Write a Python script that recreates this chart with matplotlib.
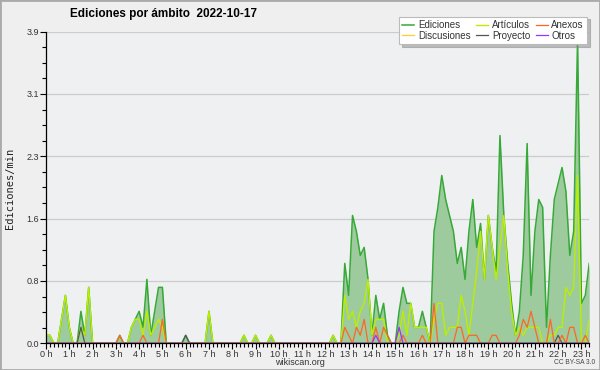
import numpy as np
import matplotlib
matplotlib.use('Agg')
import matplotlib.pyplot as plt
from matplotlib.patches import Rectangle
from matplotlib.ticker import MultipleLocator, FixedLocator

# 10-minute samples, 00:00 -> 23:20 (edits per minute)
minutes = np.arange(0, 1410, 10)

ediciones = [
    0.1, 0.1, 0, 0, 0.3, 0.6, 0.2, 0, 0, 0.4, 0.1, 0.7,
    0, 0, 0, 0, 0, 0, 0, 0.1, 0, 0, 0.2, 0.3,
    0.4, 0.2, 0.8, 0.1, 0.4, 0.7, 0.7, 0, 0, 0, 0, 0,
    0.1, 0, 0, 0, 0, 0, 0.4, 0, 0, 0, 0, 0,
    0, 0, 0, 0.1, 0, 0, 0.1, 0, 0, 0, 0.1, 0,
    0, 0, 0, 0, 0, 0, 0, 0, 0, 0, 0, 0,
    0, 0, 0.1, 0, 0, 1.0, 0.6, 1.6, 1.4, 1.1, 1.2, 0.8,
    0.1, 0.6, 0.3, 0.5, 0.1, 0, 0, 0.4, 0.7, 0.5, 0.5, 0.2,
    0.2, 0.4, 0.2, 0, 1.4, 1.7, 2.1, 1.8, 1.6, 1.4, 1.0, 1.2,
    0.8, 1.4, 1.8, 1.2, 1.5, 0.8, 1.6, 1.2, 0.9, 2.6, 1.6, 1.0,
    0.5, 0.1, 0.4, 1.1, 2.5, 0.6, 1.4, 1.8, 1.7, 0.2, 1.1, 1.8,
    2.0, 2.2, 1.9, 1.1, 1.4, 3.8, 0.5, 0.6, 1.0,
]

articulos = [
    0.1, 0.1, 0, 0, 0.3, 0.6, 0.2, 0, 0, 0.2, 0.1, 0.7,
    0, 0, 0, 0, 0, 0, 0, 0, 0, 0, 0.2, 0.3,
    0.3, 0.1, 0.4, 0.1, 0.2, 0.3, 0.2, 0, 0, 0, 0, 0,
    0, 0, 0, 0, 0, 0, 0.4, 0, 0, 0, 0, 0,
    0, 0, 0, 0.1, 0, 0, 0.1, 0, 0, 0, 0.1, 0,
    0, 0, 0, 0, 0, 0, 0, 0, 0, 0, 0, 0,
    0, 0, 0.1, 0, 0, 0.6, 0.3, 0.4, 0.2, 0.4, 0.5, 0.8,
    0.1, 0.3, 0.3, 0.3, 0, 0, 0, 0.1, 0.4, 0.1, 0.5, 0.2,
    0.2, 0.2, 0.2, 0, 0.3, 0.5, 0.5, 0.1, 0.2, 0.2, 0.2, 0.6,
    0.4, 0.1, 0.5, 0.9, 1.4, 0.8, 1.6, 1.2, 0.8, 1.2, 1.6, 0.9,
    0.4, 0.1, 0.2, 0.1, 0.2, 0.2, 0.2, 0.2, 0, 0, 0.1, 0.1,
    0.2, 0.2, 0.7, 0.6, 0.7, 2.1, 0, 0, 0.3,
]

anexos = [
    0, 0, 0, 0, 0, 0, 0, 0, 0, 0, 0, 0,
    0, 0, 0, 0, 0, 0, 0, 0.1, 0, 0, 0, 0,
    0, 0.1, 0, 0, 0, 0, 0.3, 0, 0, 0, 0, 0,
    0, 0, 0, 0, 0, 0, 0, 0, 0, 0, 0, 0,
    0, 0, 0, 0, 0, 0, 0, 0, 0, 0, 0, 0,
    0, 0, 0, 0, 0, 0, 0, 0, 0, 0, 0, 0,
    0, 0, 0, 0, 0, 0.2, 0.1, 0, 0.2, 0.1, 0.3, 0,
    0, 0.2, 0, 0.2, 0.1, 0, 0, 0, 0.1, 0, 0, 0,
    0, 0.1, 0, 0, 0.5, 0, 0, 0, 0, 0, 0.2, 0.2,
    0, 0.1, 0.1, 0.1, 0, 0, 0, 0.1, 0.1, 0, 0, 0,
    0, 0, 0.1, 0.3, 0.2, 0.4, 0.2, 0, 0, 0, 0.3, 0,
    0, 0.1, 0, 0.2, 0.2, 0, 0, 0.1, 0,
]

discusiones = [
    0, 0, 0, 0, 0, 0, 0, 0, 0, 0, 0, 0,
    0, 0, 0, 0, 0, 0, 0, 0, 0, 0, 0, 0,
    0, 0, 0, 0, 0, 0, 0, 0, 0, 0, 0, 0,
    0, 0, 0, 0, 0, 0, 0, 0, 0, 0, 0, 0,
    0, 0, 0, 0, 0, 0, 0, 0, 0, 0, 0, 0,
    0, 0, 0, 0, 0, 0, 0, 0, 0, 0, 0, 0,
    0, 0, 0, 0, 0, 0, 0, 0, 0, 0, 0, 0,
    0, 0, 0, 0, 0, 0, 0, 0, 0, 0, 0, 0,
    0, 0, 0, 0, 0, 0, 0, 0, 0, 0, 0, 0,
    0, 0, 0, 0, 0, 0, 0, 0, 0, 0, 0, 0,
    0, 0, 0, 0, 0, 0, 0, 0, 0, 0, 0, 0,
    0, 0, 0, 0, 0, 0, 0, 0, 0,
]

proyecto = [
    0, 0, 0, 0, 0, 0, 0, 0, 0, 0.2, 0, 0,
    0, 0, 0, 0, 0, 0, 0, 0, 0, 0, 0, 0,
    0, 0, 0, 0, 0, 0, 0, 0, 0, 0, 0, 0,
    0.1, 0, 0, 0, 0, 0, 0, 0, 0, 0, 0, 0,
    0, 0, 0, 0, 0, 0, 0, 0, 0, 0, 0, 0,
    0, 0, 0, 0, 0, 0, 0, 0, 0, 0, 0, 0,
    0, 0, 0, 0, 0, 0, 0, 0, 0, 0, 0, 0,
    0, 0, 0, 0, 0, 0, 0, 0, 0, 0, 0, 0,
    0, 0, 0, 0, 0, 0, 0, 0, 0, 0, 0, 0,
    0, 0, 0, 0, 0, 0, 0, 0, 0, 0, 0, 0,
    0, 0, 0, 0, 0, 0, 0, 0, 0, 0, 0, 0,
    0.1, 0, 0, 0, 0, 0, 0, 0, 0,
]

otros = [
    0, 0, 0, 0, 0, 0, 0, 0, 0, 0, 0, 0,
    0, 0, 0, 0, 0, 0, 0, 0, 0, 0, 0, 0,
    0, 0, 0, 0, 0, 0, 0, 0, 0, 0, 0, 0,
    0, 0, 0, 0, 0, 0, 0, 0, 0, 0, 0, 0,
    0, 0, 0, 0, 0, 0, 0, 0, 0, 0, 0, 0,
    0, 0, 0, 0, 0, 0, 0, 0, 0, 0, 0, 0,
    0, 0, 0, 0, 0, 0, 0, 0, 0, 0, 0, 0,
    0, 0.1, 0, 0, 0, 0, 0, 0.2, 0, 0, 0, 0,
    0, 0, 0, 0, 0, 0, 0, 0, 0, 0, 0, 0,
    0, 0, 0, 0, 0, 0, 0, 0, 0, 0, 0, 0,
    0, 0, 0, 0, 0, 0, 0, 0, 0, 0, 0, 0,
    0, 0, 0, 0, 0, 0, 0, 0, 0,
]

hour_labels = ['%d h' % h for h in range(24)]
y_max = 3.9

sans = ['Liberation Sans', 'DejaVu Sans']

hours = minutes / 60.0

fig = plt.figure(figsize=(6, 3.7), dpi=100, facecolor='#efefef')
ax = fig.add_axes([0.0767, 0.0722, 0.9053, 0.8422])
ax.set_facecolor('#eef0f2')

ax.fill_between(hours, ediciones, color='#9ecb9e', lw=0)
ax.plot(hours, ediciones, color='#36a936', lw=1.1, label='Ediciones')
ax.plot(hours, discusiones, color='#ffcc33', lw=0.9, label='Discusiones')
ax.plot(hours, articulos, color='#bbee00', lw=1.0, label='Artículos')
ax.plot(hours, proyecto, color='#555555', lw=0.9, label='Proyecto')
ax.plot(hours, anexos, color='#ff6622', lw=0.9, label='Anexos')
ax.plot(hours, otros, color='#9933ff', lw=0.9, label='Otros')

ax.set_xlim(0, hours[-1])
ax.set_ylim(0, y_max)

yt = np.linspace(0, y_max, 6)
ax.yaxis.set_major_locator(FixedLocator(yt))
ax.yaxis.set_minor_locator(MultipleLocator(y_max / 20))
ax.set_yticklabels(['%.1f' % v for v in yt], fontsize=6.5, family=sans, color='#333333')
ax.set_xticks(range(24))
ax.set_xticklabels(hour_labels, fontsize=6.5, family=sans, color='#333333')
ax.xaxis.set_minor_locator(MultipleLocator(1 / 6))
ax.tick_params(which='major', length=4, width=0.8, pad=1)
ax.tick_params(which='minor', length=3, width=0.8)

ax.grid(True, axis='y', color='#cccccc', lw=0.9)
ax.set_axisbelow(True)
for s in ['top', 'right']:
    ax.spines[s].set_visible(False)
for s in ['left', 'bottom']:
    ax.spines[s].set_linewidth(0.9)
    ax.spines[s].set_zorder(5)

fig.text(0.273, 0.962, 'Ediciones por ámbito  2022-10-17', ha='center', va='center',
         fontsize=8.5, fontweight='bold', family=sans)
fig.text(0.017, 0.492, 'Ediciones/min', rotation=90, ha='center', va='center',
         fontsize=7.5, family='DejaVu Sans Mono', color='#222222')
fig.text(0.5, 0.02, 'wikiscan.org', ha='center', va='center', fontsize=6.5,
         family=sans, color='#333333')
fig.text(0.958, 0.02, 'CC BY-SA 3.0', ha='center', va='center', fontsize=4.8,
         family=sans, color='#444444')

leg = fig.legend(loc='upper right', bbox_to_anchor=(0.987, 0.968), ncol=3,
                 frameon=True, fancybox=False, shadow={'color': '#888888'},
                 handlelength=1.2, handletextpad=0.4, columnspacing=0.6,
                 labelspacing=0.05, borderpad=0.35, prop={'family': sans, 'size': 7})
leg.get_frame().set_edgecolor('#bbbbbb')
leg.get_frame().set_linewidth(0.8)
for t in leg.get_texts():
    t.set_color('#333333')

fig.patches.append(Rectangle((0, 0), 1, 1, transform=fig.transFigure, fill=False,
                             ec='#aaaaaa', lw=2))

fig.savefig('out.png', dpi=100, facecolor=fig.get_facecolor())
